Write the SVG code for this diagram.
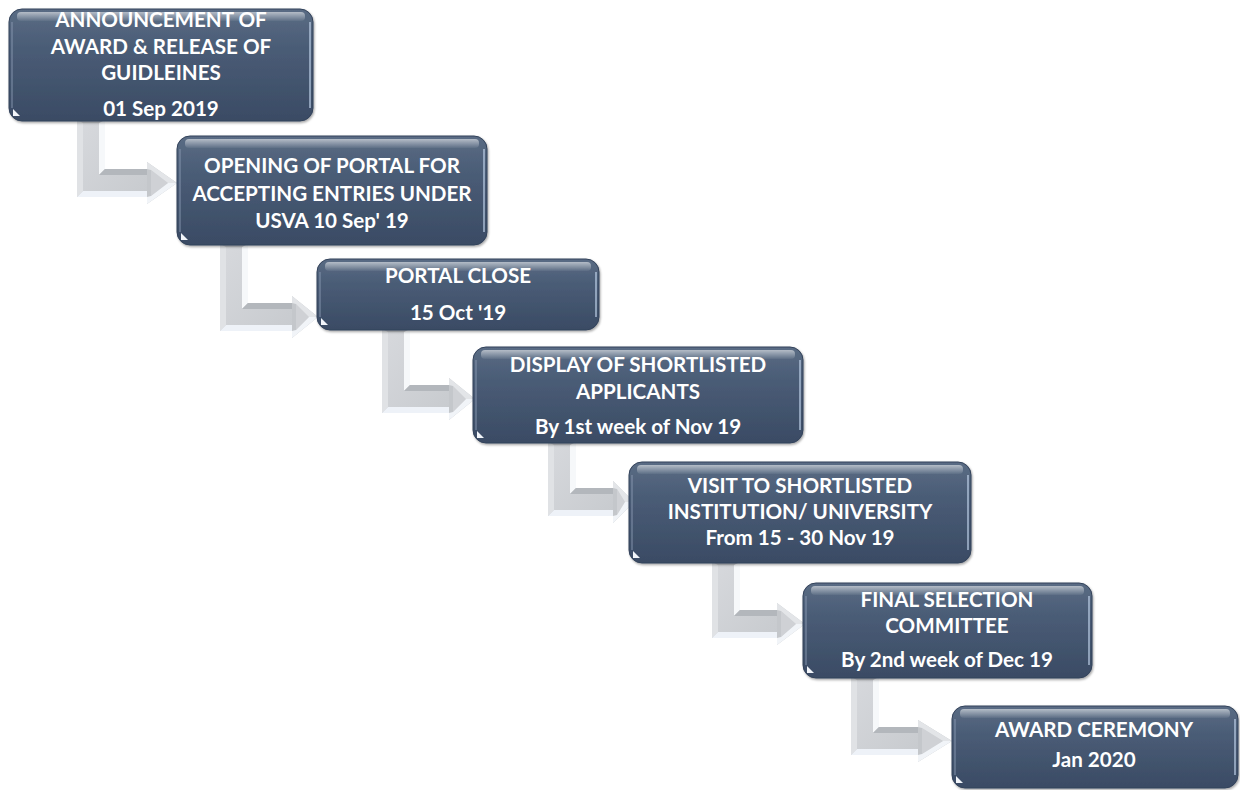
<svg xmlns="http://www.w3.org/2000/svg" width="1240" height="790" viewBox="0 0 1240 790">
<defs>
<linearGradient id="boxGrad" x1="0" y1="0" x2="0" y2="1">
<stop offset="0" stop-color="#5a6c84"/>
<stop offset="0.35" stop-color="#4a5c76"/>
<stop offset="1" stop-color="#3a4b64"/>
</linearGradient>
<linearGradient id="gloss" x1="0" y1="0" x2="0" y2="1">
<stop offset="0" stop-color="#ffffff" stop-opacity="0.55"/>
<stop offset="1" stop-color="#ffffff" stop-opacity="0.05"/>
</linearGradient>
<linearGradient id="faceGrad" x1="0" y1="0" x2="1" y2="1">
<stop offset="0" stop-color="#d6d8dc"/>
<stop offset="1" stop-color="#c8cbcf"/>
</linearGradient>
<filter id="shadow" x="-5%" y="-5%" width="110%" height="115%">
<feDropShadow dx="1" dy="1.5" stdDeviation="1.2" flood-color="#000" flood-opacity="0.35"/>
</filter>
</defs>
<style>
.box{fill:url(#boxGrad);stroke:#33425a;stroke-width:1}
.gl{fill:url(#gloss)}
.edgeR{stroke:#c4d6ee;stroke-width:1.5;fill:none;opacity:0.8}
.edgeL{stroke:#8a9bb3;stroke-width:1.5;fill:none;opacity:0.6}
.spot{fill:#f2f5fa}
.t{font-family:Lato,"Open Sans","Liberation Sans",sans-serif;font-weight:bold;font-size:20.6px;fill:#ffffff;text-anchor:middle}
.ao{fill:#c4c7cb}
.af{fill:url(#faceGrad)}
.al{fill:#e0e2e5}
.ar{fill:#f6f8fa}
.at{fill:#b3b7bc}
.ab{fill:#eef2f8}
.ahu{fill:#e3e5e8}
.ahd{fill:#f1f4f8}
.ahf{fill:#cfd1d5}
</style>

<g id="connectors">
<g id="a1">
<path class="ao" d="M77,120H105V169H147V162L177,183L147,204V197H77Z"/>
<path class="af" d="M83,123H99V175H147V191H83Z"/>
<path class="al" d="M77,120L83,123V191L77,197Z"/>
<path class="ar" d="M105,120L99,123V175L105,169Z"/>
<path class="at" d="M105,169L99,175H147V169Z"/>
<path class="ab" d="M77,197L83,191H147V197Z"/>
<path class="ahf" d="M151,170L168,183L151,196Z"/>
<path class="ahu" d="M147,162L177,183L168,183L151,170L147,169Z"/>
<path class="ahd" d="M147,204L177,183L168,183L151,196L147,197Z"/>
</g>
<g id="a2">
<path class="ao" d="M220,244H248V303H292V296L318,317L292,338V331H220Z"/>
<path class="af" d="M226,247H242V309H292V325H226Z"/>
<path class="al" d="M220,244L226,247V325L220,331Z"/>
<path class="ar" d="M248,244L242,247V309L248,303Z"/>
<path class="at" d="M248,303L242,309H292V303Z"/>
<path class="ab" d="M220,331L226,325H292V331Z"/>
<path class="ahf" d="M296,304L309,317L296,330Z"/>
<path class="ahu" d="M292,296L318,317L309,317L296,304L292,303Z"/>
<path class="ahd" d="M292,338L318,317L309,317L296,330L292,331Z"/>
</g>
<g id="a3">
<path class="ao" d="M382,329H410V385H449V378L475,399L449,420V413H382Z"/>
<path class="af" d="M388,332H404V391H449V407H388Z"/>
<path class="al" d="M382,329L388,332V407L382,413Z"/>
<path class="ar" d="M410,329L404,332V391L410,385Z"/>
<path class="at" d="M410,385L404,391H449V385Z"/>
<path class="ab" d="M382,413L388,407H449V413Z"/>
<path class="ahf" d="M453,386L466,399L453,412Z"/>
<path class="ahu" d="M449,378L475,399L466,399L453,386L449,385Z"/>
<path class="ahd" d="M449,420L475,399L466,399L453,412L449,413Z"/>
</g>
<g id="a4">
<path class="ao" d="M548,442H576V488H613V481L634,502L613,523V516H548Z"/>
<path class="af" d="M554,445H570V494H613V510H554Z"/>
<path class="al" d="M548,442L554,445V510L548,516Z"/>
<path class="ar" d="M576,442L570,445V494L576,488Z"/>
<path class="at" d="M576,488L570,494H613V488Z"/>
<path class="ab" d="M548,516L554,510H613V516Z"/>
<path class="ahf" d="M617,489L625,502L617,515Z"/>
<path class="ahu" d="M613,481L634,502L625,502L617,489L613,488Z"/>
<path class="ahd" d="M613,523L634,502L625,502L617,515L613,516Z"/>
</g>
<g id="a5">
<path class="ao" d="M712,562H740V610H777V603L805,624L777,645V638H712Z"/>
<path class="af" d="M718,565H734V616H777V632H718Z"/>
<path class="al" d="M712,562L718,565V632L712,638Z"/>
<path class="ar" d="M740,562L734,565V616L740,610Z"/>
<path class="at" d="M740,610L734,616H777V610Z"/>
<path class="ab" d="M712,638L718,632H777V638Z"/>
<path class="ahf" d="M781,611L796,624L781,637Z"/>
<path class="ahu" d="M777,603L805,624L796,624L781,611L777,610Z"/>
<path class="ahd" d="M777,645L805,624L796,624L781,637L777,638Z"/>
</g>
<g id="a6">
<path class="ao" d="M851,677H879V727H918V720L952,741L918,762V755H851Z"/>
<path class="af" d="M857,680H873V733H918V749H857Z"/>
<path class="al" d="M851,677L857,680V749L851,755Z"/>
<path class="ar" d="M879,677L873,680V733L879,727Z"/>
<path class="at" d="M879,727L873,733H918V727Z"/>
<path class="ab" d="M851,755L857,749H918V755Z"/>
<path class="ahf" d="M922,728L943,741L922,754Z"/>
<path class="ahu" d="M918,720L952,741L943,741L922,728L918,727Z"/>
<path class="ahd" d="M918,762L952,741L943,741L922,754L918,755Z"/>
</g>
</g>

<g id="n1">
<rect class="box" x="9" y="9" width="304" height="112" rx="13" filter="url(#shadow)"/>
<rect class="gl" x="17" y="12" width="288" height="9" rx="4"/>
<path class="edgeR" d="M310,22V108"/>
<path class="edgeL" d="M12,22V108"/>
<path class="spot" d="M13,116V109L20,116Z"/>
<text class="t" x="161" y="27">ANNOUNCEMENT OF</text>
<text class="t" x="161" y="54">AWARD &amp; RELEASE OF</text>
<text class="t" x="161" y="80">GUIDLEINES</text>
<text class="t" x="161" y="116">01 Sep 2019</text>
</g>

<g id="n2">
<rect class="box" x="177" y="136" width="310" height="109" rx="13" filter="url(#shadow)"/>
<rect class="gl" x="185" y="139" width="294" height="9" rx="4"/>
<path class="edgeR" d="M484,149V232"/>
<path class="edgeL" d="M180,149V232"/>
<path class="spot" d="M181,240V233L188,240Z"/>
<text class="t" x="332" y="173">OPENING OF PORTAL FOR</text>
<text class="t" x="332" y="201">ACCEPTING ENTRIES UNDER</text>
<text class="t" x="332" y="228">USVA 10 Sep' 19</text>
</g>

<g id="n3">
<rect class="box" x="317" y="259" width="282" height="71" rx="13" filter="url(#shadow)"/>
<rect class="gl" x="325" y="262" width="266" height="9" rx="4"/>
<path class="edgeR" d="M596,272V317"/>
<path class="edgeL" d="M320,272V317"/>
<path class="spot" d="M321,325V318L328,325Z"/>
<text class="t" x="458" y="283">PORTAL CLOSE</text>
<text class="t" x="458" y="320">15 Oct '19</text>
</g>

<g id="n4">
<rect class="box" x="473" y="347" width="330" height="96" rx="13" filter="url(#shadow)"/>
<rect class="gl" x="481" y="350" width="314" height="9" rx="4"/>
<path class="edgeR" d="M800,360V430"/>
<path class="edgeL" d="M476,360V430"/>
<path class="spot" d="M477,438V431L484,438Z"/>
<text class="t" x="638" y="372">DISPLAY OF SHORTLISTED</text>
<text class="t" x="638" y="399">APPLICANTS</text>
<text class="t" x="638" y="434">By 1st week of Nov 19</text>
</g>

<g id="n5">
<rect class="box" x="629" y="462" width="342" height="101" rx="13" filter="url(#shadow)"/>
<rect class="gl" x="637" y="465" width="326" height="9" rx="4"/>
<path class="edgeR" d="M968,475V550"/>
<path class="edgeL" d="M632,475V550"/>
<path class="spot" d="M633,558V551L640,558Z"/>
<text class="t" x="800" y="493">VISIT TO SHORTLISTED</text>
<text class="t" x="800" y="519">INSTITUTION/ UNIVERSITY</text>
<text class="t" x="800" y="545">From 15 - 30 Nov 19</text>
</g>

<g id="n6">
<rect class="box" x="803" y="583" width="289" height="95" rx="13" filter="url(#shadow)"/>
<rect class="gl" x="811" y="586" width="273" height="9" rx="4"/>
<path class="edgeR" d="M1089,596V665"/>
<path class="edgeL" d="M806,596V665"/>
<path class="spot" d="M807,673V666L814,673Z"/>
<text class="t" x="947" y="607">FINAL SELECTION</text>
<text class="t" x="947" y="633">COMMITTEE</text>
<text class="t" x="947" y="667">By 2nd week of Dec 19</text>
</g>

<g id="n7">
<rect class="box" x="952" y="706" width="286" height="82" rx="13" filter="url(#shadow)"/>
<rect class="gl" x="960" y="709" width="270" height="9" rx="4"/>
<path class="edgeR" d="M1235,719V775"/>
<path class="edgeL" d="M955,719V775"/>
<path class="spot" d="M956,783V776L963,783Z"/>
<text class="t" x="1094" y="737">AWARD CEREMONY</text>
<text class="t" x="1094" y="767">Jan 2020</text>
</g>
</svg>
